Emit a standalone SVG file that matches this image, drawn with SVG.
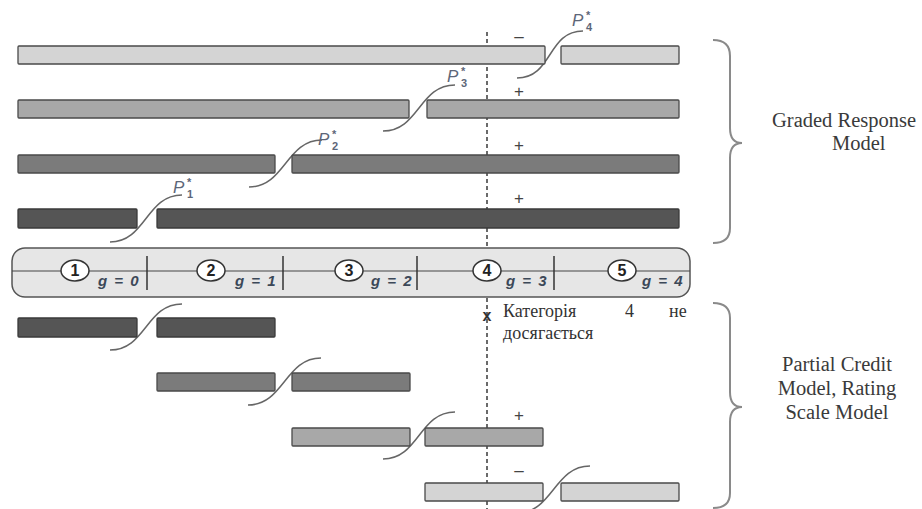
<svg xmlns="http://www.w3.org/2000/svg" width="922" height="509" viewBox="0 0 922 509">
<style>
.b1{fill:#d4d4d4;stroke:#4a4a4a;stroke-width:1.3}
.b2{fill:#a8a8a8;stroke:#4a4a4a;stroke-width:1.3}
.b3{fill:#7b7b7b;stroke:#4a4a4a;stroke-width:1.3}
.b4{fill:#555555;stroke:#3a3a3a;stroke-width:1.3}
.sig{fill:none;stroke:#666;stroke-width:1.5}
.dash{fill:none;stroke:#6a6a6a;stroke-width:2;stroke-dasharray:4 3}
.brace{fill:none;stroke:#8a8a8a;stroke-width:2}
.p{font-family:"Liberation Sans",Arial,sans-serif;font-style:italic;font-size:17px;fill:#5d6678}
.ps{font-family:"Liberation Sans",Arial,sans-serif;font-weight:bold;font-size:11px;fill:#5d6678}
.pm{font-family:"Liberation Sans",Arial,sans-serif;font-size:17px;fill:#444;text-anchor:middle}
.g{font-family:"Liberation Sans",Arial,sans-serif;font-style:italic;font-weight:bold;font-size:15px;letter-spacing:1.5px;fill:#3c4858}
.n{font-family:"Liberation Sans",Arial,sans-serif;font-weight:bold;font-size:16px;fill:#222;text-anchor:middle}
.lbl{font-family:"Liberation Serif","Times New Roman",serif;font-size:20.5px;fill:#3a3a3a}
.note{font-family:"Liberation Serif","DejaVu Serif","Times New Roman",serif;font-size:18px;fill:#333}
.ell{fill:#fff;stroke:#333;stroke-width:1.5}
.tick{stroke:#333;stroke-width:1.5}
</style>
<g id="connectors">
<line class="dash" x1="487" y1="32" x2="487" y2="509"/>
<path class="sig" d="M517 78 C553 78 547 31 583 31"/>
<path class="sig" d="M383 131 C419 131 419 85 455 85"/>
<path class="sig" d="M249 187 C285 187 286 140 322 140"/>
<path class="sig" d="M110 242 C146 242 146 195 182 195"/>
<path class="sig" d="M110 350 C146 350 146 304 182 304"/>
<path class="sig" d="M248 405 C284 405 285 358 321 358"/>
<path class="sig" d="M383 459 C419 459 419 412 455 412"/>
<path class="sig" d="M517 513 C553 513 554 466 590 466"/>
</g>
<g id="grm-row4">
<rect class="b1" x="18" y="46" width="527" height="18" rx="1"/>
<rect class="b1" x="561" y="46" width="118" height="18" rx="1"/>
<text class="p" x="572" y="26">P</text><text class="ps" x="586" y="19">*</text><text class="ps" x="586" y="31">4</text>
<text class="pm" x="519" y="42">–</text>
</g>
<g id="grm-row3">
<rect class="b2" x="18" y="100" width="391" height="18" rx="1"/>
<rect class="b2" x="427" y="100" width="252" height="18" rx="1"/>
<text class="p" x="447" y="82">P</text><text class="ps" x="461" y="75">*</text><text class="ps" x="461" y="87">3</text>
<text class="pm" x="519" y="97">+</text>
</g>
<g id="grm-row2">
<rect class="b3" x="18" y="155" width="257" height="18" rx="1"/>
<rect class="b3" x="292" y="155" width="387" height="18" rx="1"/>
<text class="p" x="318" y="145">P</text><text class="ps" x="332" y="138">*</text><text class="ps" x="332" y="150">2</text>
<text class="pm" x="519" y="151">+</text>
</g>
<g id="grm-row1">
<rect class="b4" x="18" y="209" width="119" height="19" rx="1"/>
<rect class="b4" x="157" y="209" width="522" height="19" rx="1"/>
<text class="p" x="173" y="193">P</text><text class="ps" x="187" y="186">*</text><text class="ps" x="187" y="198">1</text>
<text class="pm" x="519" y="204">+</text>
</g>
<g id="scale">
<rect x="12" y="248" width="678" height="49" rx="13" fill="#e6e6e6" stroke="#555" stroke-width="1.5"/>
<line x1="12" y1="271" x2="690" y2="271" stroke="#444" stroke-width="1.2"/>
<line class="tick" x1="147" y1="256" x2="147" y2="290"/>
<line class="tick" x1="283" y1="256" x2="283" y2="290"/>
<line class="tick" x1="417" y1="256" x2="417" y2="290"/>
<line class="tick" x1="554" y1="256" x2="554" y2="290"/>
<ellipse class="ell" cx="75" cy="270.5" rx="14" ry="10.5"/><text class="n" x="75" y="276">1</text>
<ellipse class="ell" cx="211" cy="270.5" rx="14" ry="10.5"/><text class="n" x="211" y="276">2</text>
<ellipse class="ell" cx="349" cy="270.5" rx="14" ry="10.5"/><text class="n" x="349" y="276">3</text>
<ellipse class="ell" cx="487" cy="270.5" rx="14" ry="10.5"/><text class="n" x="487" y="276">4</text>
<ellipse class="ell" cx="622" cy="270.5" rx="14" ry="10.5"/><text class="n" x="622" y="276">5</text>
<text class="g" x="98" y="286">g = 0</text>
<text class="g" x="235" y="286">g = 1</text>
<text class="g" x="371" y="286">g = 2</text>
<text class="g" x="506" y="286">g = 3</text>
<text class="g" x="642" y="286">g = 4</text>
</g>
<g id="note">
<text x="487" y="321" font-family="Liberation Sans,Arial,sans-serif" font-weight="bold" font-size="16" fill="#333" text-anchor="middle">x</text>
<text class="note" x="503" y="317">Категорія</text>
<text class="note" x="625" y="317">4</text>
<text class="note" x="669" y="317">не</text>
<text class="note" x="503" y="339">досягається</text>
</g>
<g id="pcm-row1">
<rect class="b4" x="18" y="318" width="119" height="19" rx="1"/>
<rect class="b4" x="157" y="318" width="118" height="19" rx="1"/>
</g>
<g id="pcm-row2">
<rect class="b3" x="157" y="373" width="118" height="18" rx="1"/>
<rect class="b3" x="292" y="373" width="118" height="18" rx="1"/>
</g>
<g id="pcm-row3">
<rect class="b2" x="292" y="428" width="118" height="18" rx="1"/>
<rect class="b2" x="425" y="428" width="118" height="18" rx="1"/>
<text class="pm" x="519" y="421">+</text>
</g>
<g id="pcm-row4">
<rect class="b1" x="425" y="483" width="118" height="18" rx="1"/>
<rect class="b1" x="561" y="483" width="118" height="18" rx="1"/>
<text class="pm" x="519" y="476">–</text>
</g>
<g id="grm-brace">
<path class="brace" d="M713 40 Q730 40 730 56 L730 128 Q730 143 742 143 Q730 143 730 158 L730 228 Q730 243 713 243"/>
<text class="lbl" x="772" y="127">Graded Response</text>
<text class="lbl" x="832" y="150">Model</text>
</g>
<g id="pcm-brace">
<path class="brace" d="M713 303 Q730 303 730 318 L730 392 Q730 407 742 407 Q730 407 730 422 L730 493 Q730 508 713 508"/>
<text class="lbl" x="837" y="371" text-anchor="middle">Partial Credit</text>
<text class="lbl" x="837" y="395" text-anchor="middle">Model, Rating</text>
<text class="lbl" x="837" y="419" text-anchor="middle">Scale Model</text>
</g>
</svg>
